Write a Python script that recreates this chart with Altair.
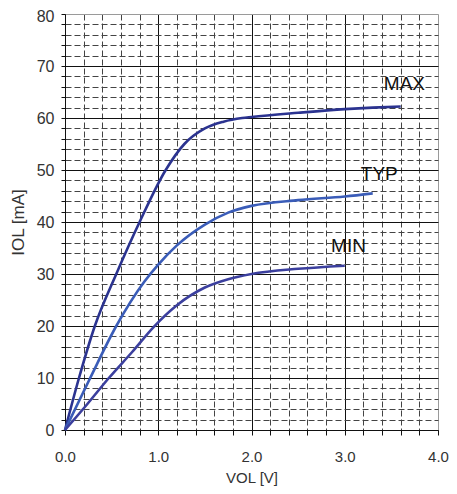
import altair as alt
import pandas as pd

# ---- data ----
max_x = [0.0, 0.15, 0.32, 0.55, 0.8, 1.08, 1.28, 1.5, 1.7, 1.9, 2.0, 2.5, 3.0, 3.3, 3.6]
max_y = [0.0, 10.0, 20.0, 30.0, 40.0, 50.0, 55.0, 58.0, 59.3, 60.0, 60.2, 61.0, 61.7, 62.0, 62.2]

typ_x = [0.0, 0.27, 0.55, 0.85, 1.0, 1.2, 1.5, 1.75, 2.0, 2.5, 3.0, 3.3]
typ_y = [0.0, 10.0, 20.0, 28.5, 31.8, 35.5, 39.5, 41.8, 43.1, 44.2, 44.9, 45.5]

min_x = [0.0, 0.24, 0.47, 0.72, 0.95, 1.2, 1.5, 1.75, 2.0, 2.5, 3.0]
min_y = [0.0, 5.0, 10.0, 15.0, 19.8, 24.0, 27.4, 29.0, 30.0, 31.0, 31.6]

series_names = ["MAX", "TYP", "MIN"]
series_colors = ["#2b3390", "#3a5cb8", "#3b3f9e"]

label_text = ["MAX", "TYP", "MIN"]
label_x = [3.64, 3.37, 3.04]
label_y = [66.5, 49.3, 35.3]

x_ticks = [round(i * 0.2, 1) for i in range(21)]
y_ticks = [i * 2 for i in range(41)]

rows = []
for name, xs, ys in zip(series_names, [max_x, typ_x, min_x], [max_y, typ_y, min_y]):
    for i, (a, b) in enumerate(zip(xs, ys)):
        rows.append({"series": name, "order": i, "vol": a, "iol": b})
df = pd.DataFrame(rows)
labels = pd.DataFrame({"text": label_text, "vol": label_x, "iol": label_y})

FONT = "Liberation Sans"

is_major_x = "abs(datum.value - round(datum.value)) < 0.001"
is_major_y = "datum.value % 10 === 0"

x_axis = alt.Axis(
    values=x_ticks,
    tickCount=200,
    labelExpr=f"{is_major_x} ? format(datum.value, '.1f') : ''",
    title="VOL [V]",
    grid=True,
    gridColor={"condition": [{"test": "datum.value >= 3.99", "value": "#9a9a9a"},
                             {"test": is_major_x, "value": "#111111"}],
               "value": "#444444"},
    gridDash={"condition": {"test": is_major_x, "value": []}, "value": [6, 3]},
    gridWidth=1,
    tickSize=5,
    tickColor="#111111",
    domainColor="#111111",
    labelPadding=14,
    labelFontSize=15,
    labelColor="#333333",
    labelFont=FONT,
    labelOverlap=False,
    labelFlush=False,
    titleFont=FONT,
    titleFontSize=15,
    titleFontWeight="normal",
    titleColor="#333333",
    titlePadding=6,
)

y_axis = alt.Axis(
    values=y_ticks,
    tickCount=200,
    labelExpr=f"{is_major_y} ? format(datum.value, 'd') : ''",
    labelOffset={"condition": {"test": "datum.value >= 79.9", "value": 2}, "value": 0},
    title="IOL [mA]",
    grid=True,
    gridColor={"condition": [{"test": "datum.value >= 79.9", "value": "#9a9a9a"},
                             {"test": is_major_y, "value": "#111111"}],
               "value": "#444444"},
    gridDash={"condition": {"test": is_major_y, "value": []}, "value": [6, 3]},
    gridWidth=1,
    tickSize=4,
    tickColor="#111111",
    domainColor="#111111",
    labelPadding=7,
    labelFontSize=16,
    labelColor="#333333",
    labelFont=FONT,
    labelOverlap=False,
    labelFlush=False,
    titleFont=FONT,
    titleFontSize=17,
    titleFontWeight="normal",
    titleColor="#333333",
    titlePadding=9,
)

x_enc = alt.X("vol:Q", scale=alt.Scale(domain=[0, 4], nice=False), axis=x_axis)
y_enc = alt.Y("iol:Q", scale=alt.Scale(domain=[0, 80], nice=False), axis=y_axis)

lines = alt.Chart(df).mark_line(strokeWidth=2.6, interpolate="monotone").encode(
    x=x_enc,
    y=y_enc,
    color=alt.Color("series:N", scale=alt.Scale(domain=series_names, range=series_colors), legend=None),
    order="order:Q",
)

texts = alt.Chart(labels).mark_text(
    font=FONT, fontSize=19, color="#111111", align="center", baseline="middle"
).encode(x="vol:Q", y="iol:Q", text="text:N")

chart = alt.layer(lines, texts).properties(
    width=373,
    height=416,
    autosize=alt.AutoSizeParams(type="none"),
    padding={"left": 57, "top": 6, "right": 11, "bottom": 60},
).configure_view(stroke="#9a9a9a", strokeWidth=1).configure(background="white")

chart.save("out.html", embed_options={"renderer": "svg", "actions": False})
